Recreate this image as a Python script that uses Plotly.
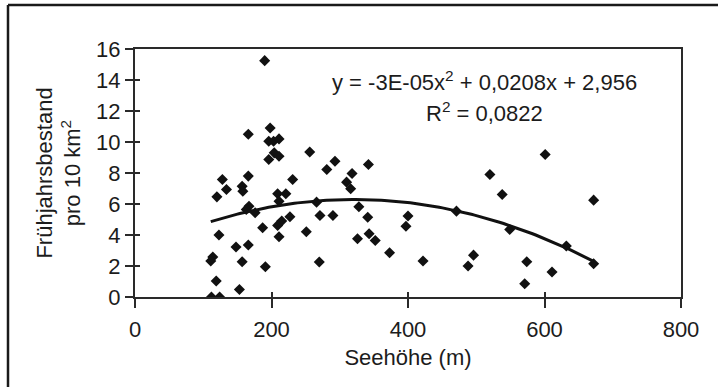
import numpy as np
import plotly.graph_objects as go

# Elevation (m) and spring population per 10 km² for each survey plot
seehoehe = [190, 198, 166, 196, 203, 211, 204, 196, 211, 256, 601, 293, 281, 342,
            318, 520, 128, 166, 231, 310, 316, 134, 157, 158, 120, 209, 221, 538,
            672, 167, 163, 176, 266, 328, 211, 227, 215, 209, 271, 290, 341, 400,
            397, 471, 549, 187, 123, 211, 251, 326, 343, 352, 632, 148, 166, 114,
            111, 157, 191, 270, 373, 422, 496, 488, 574, 672, 611, 571, 119, 153,
            112, 124]
bestand = [15.25, 10.9, 10.5, 10.05, 10.05, 10.2, 9.3, 8.87, 9.08, 9.36, 9.19, 8.76,
           8.23, 8.55, 7.97, 7.9, 7.58, 7.8, 7.58, 7.41, 6.98, 6.94, 7.15, 6.83,
           6.46, 6.66, 6.66, 6.61, 6.25, 5.86, 5.65, 5.43, 6.12, 5.82, 6.18, 5.18,
           4.9, 4.62, 5.26, 5.26, 5.15, 5.22, 4.57, 5.54, 4.36, 4.47, 4.0, 3.89,
           4.21, 3.76, 4.08, 3.65, 3.29, 3.22, 3.35, 2.58, 2.32, 2.28, 1.95, 2.26,
           2.86, 2.32, 2.7, 2.0, 2.28, 2.15, 1.61, 0.86, 1.03, 0.49, 0.0, 0.0]

# Polynomial (order 2) trendline coefficients and fit quality
trend_a = -3.24e-05
trend_b = 0.0208
trend_c = 2.956
r_squared = 0.0822

x_ticks = [0, 200, 400, 600, 800]
y_ticks = [0, 2, 4, 6, 8, 10, 12, 14, 16]


def komma(value, digits):
    return f"{value:.{digits}f}".replace(".", ",")


xs = np.linspace(min(seehoehe), max(seehoehe), 120)
ys = trend_a * xs**2 + trend_b * xs + trend_c

font_family = "Liberation Sans, Arial, sans-serif"
ink = "#1c1c1c"
fsize = 22

fig = go.Figure()
fig.add_trace(go.Scatter(
    x=seehoehe, y=bestand, mode="markers",
    marker=dict(symbol="diamond", size=8.5, color="#111111", line=dict(width=0)),
    showlegend=False, hoverinfo="x+y",
))
fig.add_trace(go.Scatter(
    x=xs, y=ys, mode="lines", line=dict(color="#111111", width=3),
    showlegend=False, hoverinfo="skip",
))
# companion axes carry the inner half of the crossing tick marks
fig.add_trace(go.Scatter(x=[], y=[], xaxis="x2", yaxis="y2",
                         showlegend=False, hoverinfo="skip"))

eq_text = (f"y = {trend_a:.0E}x<sup>2</sup> + {komma(trend_b, 4)}x + "
           f"{komma(trend_c, 3)}")
r2_text = f"R<sup>2</sup> = {komma(r_squared, 4)}"

axis_common = dict(showgrid=False, zeroline=False, showline=True,
                   linecolor="#2a2a2a", linewidth=2, mirror=True,
                   ticks="outside", tickcolor="#2a2a2a", tickwidth=2,
                   tickfont=dict(family=font_family, size=fsize, color=ink))

frame = dict(color="#1a1a1a", width=2.5)

fig.update_layout(
    width=718, height=387,
    margin=dict(l=135, r=37, t=49, b=90),
    paper_bgcolor="white", plot_bgcolor="white",
    font=dict(family=font_family, color=ink),
    xaxis=dict(range=[0, 800], tickvals=x_ticks, ticklen=9,
               ticklabelstandoff=3,
               title=dict(text="Seehöhe (m)", standoff=8,
                          font=dict(family=font_family, size=fsize, color=ink)),
               **axis_common),
    yaxis=dict(range=[0, 16], tickvals=y_ticks, ticklen=8,
               title=dict(text="Frühjahrsbestand<br>pro 10 km<sup>2</sup>",
                          standoff=9,
                          font=dict(family=font_family, size=fsize, color=ink)),
               **axis_common),
    xaxis2=dict(range=[0, 800], tickvals=x_ticks, overlaying="x", anchor="y",
                ticks="inside", ticklen=5, tickwidth=2, tickcolor="#2a2a2a",
                showticklabels=False, showgrid=False, zeroline=False,
                showline=False),
    yaxis2=dict(range=[0, 16], tickvals=y_ticks, overlaying="y", anchor="x",
                ticks="inside", ticklen=5, tickwidth=2, tickcolor="#2a2a2a",
                showticklabels=False, showgrid=False, zeroline=False,
                showline=False),
    annotations=[
        dict(x=512, y=13.95, xref="x", yref="y", text=eq_text, showarrow=False,
             xanchor="center", yanchor="middle",
             font=dict(family=font_family, size=fsize, color=ink)),
        dict(x=512, y=11.95, xref="x", yref="y", text=r2_text, showarrow=False,
             xanchor="center", yanchor="middle",
             font=dict(family=font_family, size=fsize, color=ink)),
    ],
    shapes=[
        # chart frame: left and top edges (it runs off the right and bottom)
        dict(type="line", xref="paper", yref="paper",
             x0=-0.2326, x1=-0.2326, y0=-0.5, y1=1.177, line=frame),
        dict(type="line", xref="paper", yref="paper",
             x0=-0.2326, x1=1.2, y0=1.177, y1=1.177, line=frame),
    ],
)

fig.write_html("out.html")
